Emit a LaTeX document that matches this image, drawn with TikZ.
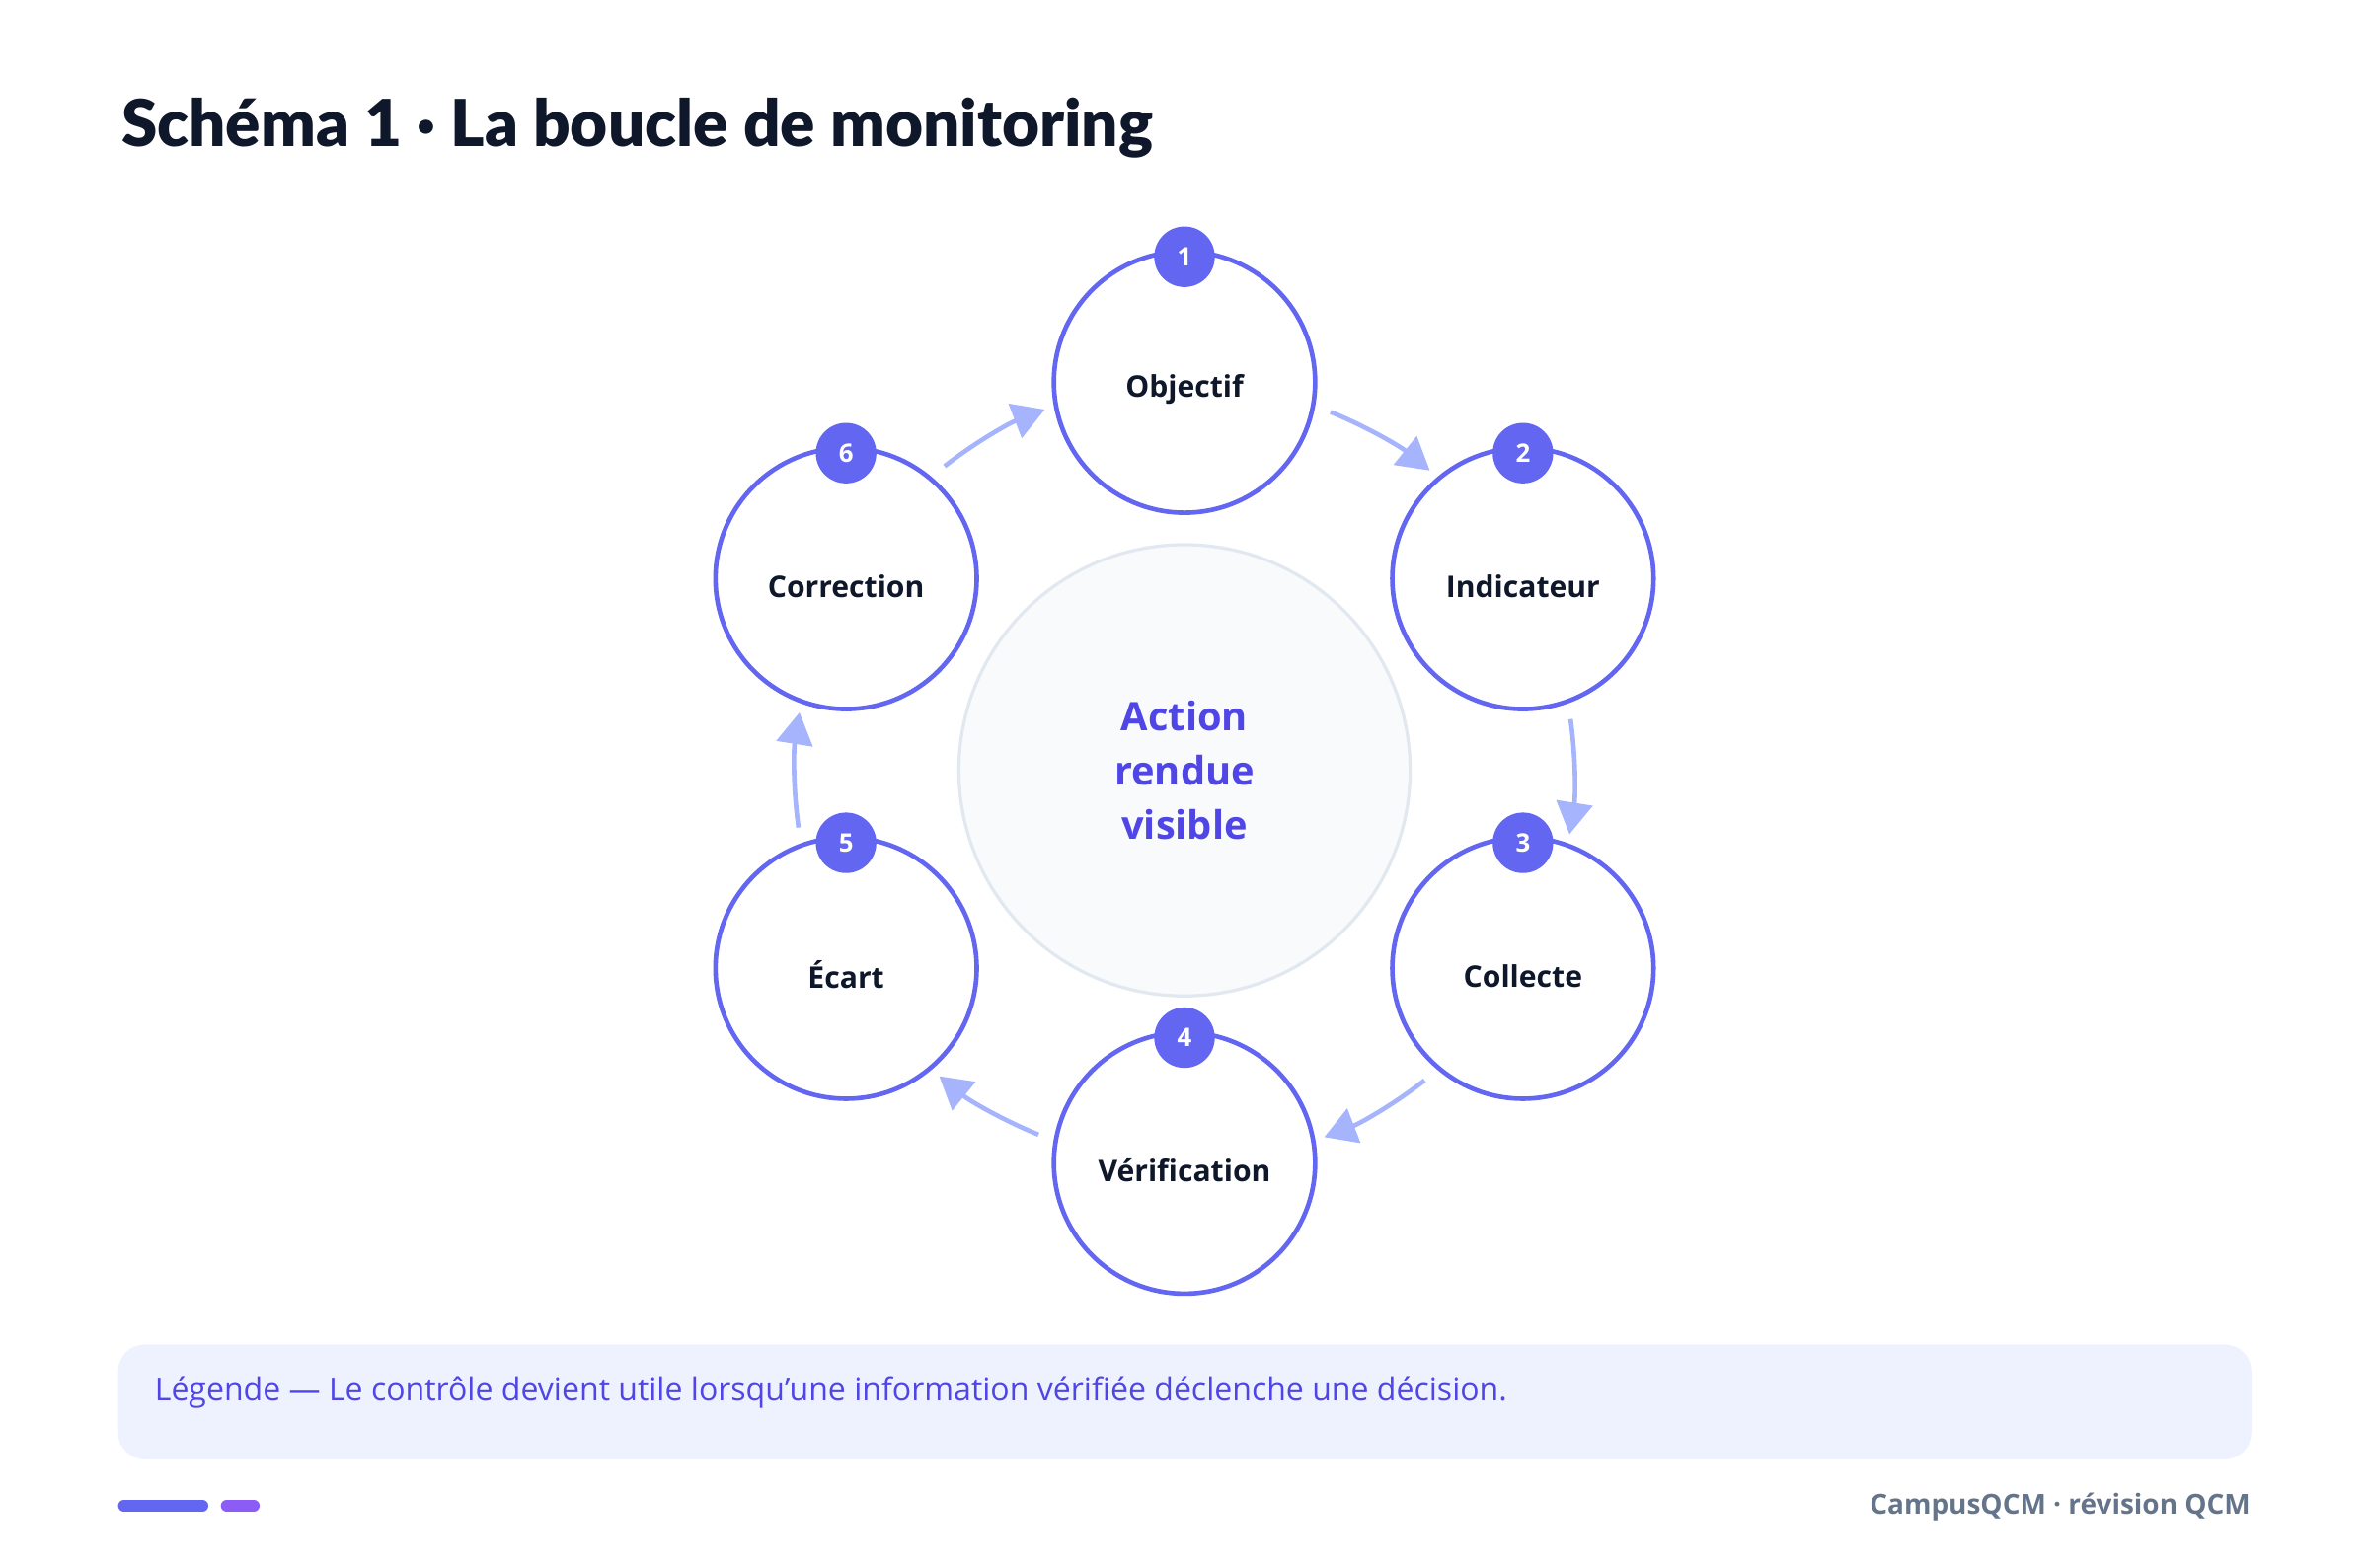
\documentclass[tikz,border=0pt]{standalone}
\usepackage{fontspec}
\setmainfont{Open Sans}
\newfontfamily\heavy{Lato Black}
\usetikzlibrary{arrows.meta}
\definecolor{ind}{HTML}{6366F1}
\definecolor{indt}{HTML}{4F46E5}
\definecolor{arr}{HTML}{A5B4FC}
\definecolor{dark}{HTML}{0F172A}
\definecolor{cfill}{HTML}{F8FAFC}
\definecolor{cline}{HTML}{E2E8F0}
\definecolor{leg}{HTML}{EEF2FF}
\definecolor{foot}{HTML}{64748B}
\definecolor{vio}{HTML}{8B5CF6}
\begin{document}
\begin{tikzpicture}[x=0.05cm,y=-0.05cm,
  stage/.style={circle,draw=ind,line width=4.3pt,fill=white,minimum size=246pt,inner sep=0pt,font=\fontsize{28}{32}\selectfont\bfseries,text=dark},
  lab/.style={font=\fontsize{28}{32}\selectfont\bfseries,text=dark},
  badge/.style={circle,fill=ind,minimum size=57pt,inner sep=0pt,font=\fontsize{24}{26}\selectfont\bfseries,text=white},
  flow/.style={draw=arr,line width=4.3pt,-{Triangle[length=30pt,width=34pt]}}]
\useasboundingbox (0,0) rectangle (1568,1037.5);
\node[anchor=base west,font=\fontsize{61}{66}\selectfont\heavy,text=dark] (title) at (78,97) {Schéma 1 · La boucle de monitoring};
\node[circle,draw=cline,line width=3pt,fill=cfill,minimum size=425pt,inner sep=0pt,align=center,font=\fontsize{37}{51}\selectfont\bfseries,text=indt] (center) at (784,510) {Action\\rendue\\visible};
\foreach \a [count=\i] in {90,30,-30,-90,-150,150}{
  \draw[flow] ({784+258*cos(\a-22)},{512-258*sin(\a-22)}) arc[start angle=-(\a-22),end angle=-(\a-39),radius=258];
}
\node[stage] (n1) at (784,253) {};
\node[stage] (n2) at (1008,383) {};
\node[stage] (n3) at (1008,641) {};
\node[stage] (n4) at (784,770) {};
\node[stage] (n5) at (560,641) {};
\node[stage] (n6) at (560,383) {};
\node[lab] (l1) at (784,258) {Objectif};
\node[lab] (l2) at (1008,388) {Indicateur};
\node[lab] (l3) at (1008,646) {Collecte};
\node[lab] (l4) at (784,775) {Vérification};
\node[lab] (l5) at (560,645) {Écart};
\node[lab] (l6) at (560,388) {Correction};
\foreach \i in {1,...,6}{\node[badge] (b\i) at ([yshift=83*0.05cm]n\i.center) {\i};}
\node[fill=leg,draw=none,rounded corners=25pt,minimum width=1412*0.05cm,minimum height=76*0.05cm,anchor=north west] (legend) at (78,890) {};
\node[anchor=west,font=\fontsize{29.8}{32}\selectfont,text=indt] (legtext) at (100,922) {Légende — Le contrôle devient utile lorsqu{\char"27}une information vérifiée déclenche une décision.};
\draw[ind,line width=11pt,line cap=round] (82,997) -- (134,997);
\draw[vio,line width=11pt,line cap=round] (150,997) -- (168,997);
\node[anchor=east,font=\fontsize{26}{30}\selectfont\bfseries,text=foot] (footer) at (1492,998) {CampusQCM · révision QCM};
\end{tikzpicture}
\end{document}
